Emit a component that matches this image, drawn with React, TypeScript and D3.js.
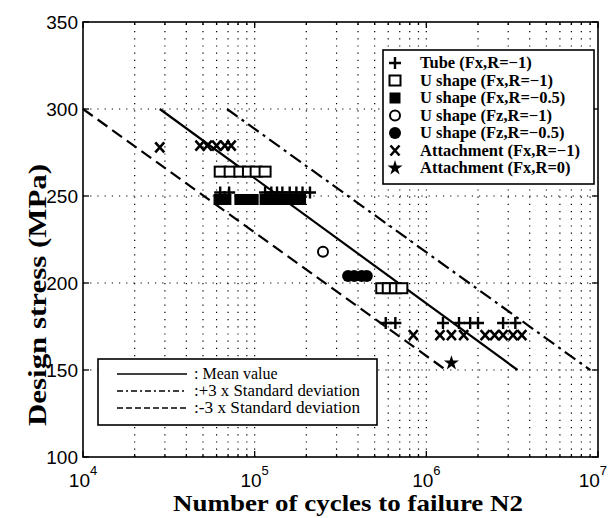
import React from "react";
import * as d3 from "d3";

// S-N data: cycles N and design stress S (MPa)
const tubeN = [6.3e4, 7.1e4, 1.15e5, 1.25e5, 1.35e5, 1.45e5, 1.6e5, 1.75e5, 1.9e5, 2.1e5, 5.8e5, 6.6e5, 1.25e6, 1.55e6, 1.8e6, 2.0e6, 2.8e6, 3.3e6];
const tubeS = [252, 252, 252, 252, 252, 252, 252, 252, 252, 252, 177, 177, 177, 177, 177, 177, 177, 177];

const uFxR1N = [6.3e4, 7.2e4, 8.2e4, 9.2e4, 1.02e5, 1.15e5, 5.5e5, 6.0e5, 6.6e5, 7.2e5];
const uFxR1S = [264, 264, 264, 264, 264, 264, 197, 197, 197, 197];

const uFxR05N = [6.2e4, 6.8e4, 8.2e4, 9.0e4, 9.8e4, 1.15e5, 1.25e5, 1.4e5, 1.55e5, 1.7e5, 1.85e5];
const uFxR05S = [248, 248, 248, 248, 248, 248, 248, 248, 248, 248, 248];

const uFzR1N = [2.5e5];
const uFzR1S = [218];

const uFzR05N = [3.5e5, 3.8e5, 4.2e5, 4.5e5];
const uFzR05S = [204, 204, 204, 204];

const attR1N = [2.8e4, 4.8e4, 5.3e4, 6.0e4, 6.7e4, 7.3e4, 8.4e5, 1.2e6, 1.4e6, 1.65e6, 2.2e6, 2.5e6, 2.8e6, 3.2e6, 3.6e6];
const attR1S = [278, 279, 279, 279, 279, 279, 170, 170, 170, 170, 170, 170, 170, 170, 170];

const attR0N = [1.4e6];
const attR0S = [154];

// design curves, each from 300 MPa down to 150 MPa
const curveS = [300, 150];
const meanN = [2.8e4, 3.4e6];
const plus3N = [6.9e4, 9.0e6];
const minus3N = [1.0e4, 1.3e6];

const yTicks = [100, 150, 200, 250, 300, 350];
const xDecades = [4, 5, 6, 7];

const seriesLabels = [
  "Tube (Fx,R=\u22121)",
  "U shape (Fx,R=\u22121)",
  "U shape (Fx,R=\u22120.5)",
  "U shape (Fz,R=\u22121)",
  "U shape (Fz,R=\u22120.5)",
  "Attachment (Fx,R=\u22121)",
  "Attachment (Fx,R=0)",
];
const curveLabels = [": Mean value", ":+3 x Standard deviation", ":-3 x Standard deviation"];

const width = 609;
const height = 518;
const margin = { top: 22, right: 11, bottom: 61, left: 83 };

const serif = "'Liberation Serif', 'Times New Roman', serif";
const sans = "'Liberation Sans', Arial, sans-serif";

function Marker({ kind, x, y }: { kind: string; x: number; y: number }) {
  if (kind === "plus") {
    return <path d={`M${x - 6},${y}H${x + 6}M${x},${y - 6}V${y + 6}`} stroke="#000" strokeWidth={2.4} />;
  }
  if (kind === "sqOpen") {
    return <rect x={x - 5.5} y={y - 5} width={11} height={10} fill="#fff" stroke="#000" strokeWidth={2} />;
  }
  if (kind === "sqFill") {
    return <rect x={x - 5.5} y={y - 5.5} width={11} height={11} fill="#000" />;
  }
  if (kind === "circOpen") {
    return <circle cx={x} cy={y} r={5} fill="none" stroke="#000" strokeWidth={2} />;
  }
  if (kind === "circFill") {
    return <circle cx={x} cy={y} r={6} fill="#000" />;
  }
  if (kind === "cross") {
    return <path d={`M${x - 4.5},${y - 5}L${x + 4.5},${y + 5}M${x - 4.5},${y + 5}L${x + 4.5},${y - 5}`} stroke="#000" strokeWidth={2.6} />;
  }
  const star = d3.symbol().type(d3.symbolStar).size(70)();
  return <path d={star || ""} transform={`translate(${x},${y})`} fill="#000" />;
}

export default function App() {
  const x = d3.scaleLog().domain([1e4, 1e7]).range([margin.left, width - margin.right]);
  const y = d3.scaleLinear().domain([100, 350]).range([height - margin.bottom, margin.top]);
  const x0 = margin.left, x1 = width - margin.right, y0 = height - margin.bottom, y1 = margin.top;

  const minor: number[] = [];
  for (let e = 4; e < 7; e++) for (let k = 2; k <= 9; k++) minor.push(k * Math.pow(10, e));
  const majorInner = [1e5, 1e6];

  const series = [
    { kind: "plus", n: tubeN, s: tubeS },
    { kind: "sqOpen", n: uFxR1N, s: uFxR1S },
    { kind: "sqFill", n: uFxR05N, s: uFxR05S },
    { kind: "circOpen", n: uFzR1N, s: uFzR1S },
    { kind: "circFill", n: uFzR05N, s: uFzR05S },
    { kind: "cross", n: attR1N, s: attR1S },
    { kind: "star", n: attR0N, s: attR0S },
  ];

  const line = d3.line<[number, number]>().x(d => x(d[0])).y(d => y(d[1]));
  const curves = [
    { n: meanN, dash: undefined as string | undefined, legDash: undefined as string | undefined },
    { n: plus3N, dash: "13,5,3,5", legDash: "6,3,2,3" },
    { n: minus3N, dash: "12,6", legDash: "6,3" },
  ];

  const leg = { x: 383, y: 50, w: 211, h: 134 };
  const leg2 = { x: 98, y: 359, w: 279, h: 66 };

  return (
    <svg width={width} height={height} style={{ position: "absolute", left: 0, top: 0, background: "#fff" }}>
      <rect width={width} height={height} fill="#fff" />
      {/* dotted grid */}
      <g stroke="#000" strokeWidth={1.2} strokeDasharray="1.2,6">
        {minor.concat(majorInner).map((v, i) => (
          <line key={"gx" + i} x1={x(v)} x2={x(v)} y1={y0} y2={y1} />
        ))}
        {yTicks.slice(1, -1).map(v => (
          <line key={"gy" + v} x1={x0} x2={x1} y1={y(v)} y2={y(v)} />
        ))}
      </g>

      {/* design curves */}
      {curves.map((c, i) => (
        <path key={"c" + i}
          d={line(c.n.map((n, j) => [n, curveS[j]] as [number, number])) || ""}
          fill="none" stroke="#000" strokeWidth={2.2} strokeDasharray={c.dash} />
      ))}

      {/* data points */}
      {series.map((sr, i) => (
        <g key={"s" + i}>
          {sr.n.map((n, j) => <Marker key={j} kind={sr.kind} x={x(n)} y={y(sr.s[j])} />)}
        </g>
      ))}

      {/* frame and ticks */}
      <rect x={x0} y={y1} width={x1 - x0} height={y0 - y1} fill="none" stroke="#000" strokeWidth={1.6} />
      <g stroke="#000" strokeWidth={1.3}>
        {yTicks.map(v => (
          <g key={"ty" + v}>
            <line x1={x0} x2={x0 + 6} y1={y(v)} y2={y(v)} />
            <line x1={x1} x2={x1 - 6} y1={y(v)} y2={y(v)} />
          </g>
        ))}
        {xDecades.map(e => (
          <g key={"tx" + e}>
            <line x1={x(Math.pow(10, e))} x2={x(Math.pow(10, e))} y1={y0} y2={y0 - 6} />
            <line x1={x(Math.pow(10, e))} x2={x(Math.pow(10, e))} y1={y1} y2={y1 + 6} />
          </g>
        ))}
        {minor.map((v, i) => (
          <g key={"tm" + i}>
            <line x1={x(v)} x2={x(v)} y1={y0} y2={y0 - 3} />
            <line x1={x(v)} x2={x(v)} y1={y1} y2={y1 + 3} />
          </g>
        ))}
      </g>

      {/* tick labels */}
      <g fontFamily={sans} fontSize={19} fill="#000">
        {yTicks.map(v => (
          <text key={"ly" + v} x={x0 - 5} y={y(v)} dy="0.35em" textAnchor="end">{v}</text>
        ))}
        {xDecades.map((e, i) => {
          const last = i === xDecades.length - 1;
          return (
            <text key={"lx" + e} x={last ? width - 2 : x(Math.pow(10, e))} y={487} textAnchor={last ? "end" : "middle"}>
              <tspan>10</tspan>
              <tspan fontSize={13} dy={-12}>{e}</tspan>
            </text>
          );
        })}
      </g>

      {/* axis titles */}
      <text x={348} y={511} textAnchor="middle" fontFamily={serif} fontWeight="bold" fontSize={23}
        textLength={350} lengthAdjust="spacingAndGlyphs">Number of cycles to failure N2</text>
      <text transform="translate(46,295) rotate(-90)" textAnchor="middle" fontFamily={serif} fontWeight="bold"
        fontSize={25} textLength={262} lengthAdjust="spacingAndGlyphs">Design stress (MPa)</text>

      {/* series legend */}
      <rect x={leg.x} y={leg.y} width={leg.w} height={leg.h} fill="#fff" stroke="#000" strokeWidth={1.6} />
      {seriesLabels.map((t, i) => {
        const cy = leg.y + 13 + i * 17.5;
        return (
          <g key={"lg" + i}>
            <Marker kind={series[i].kind} x={leg.x + 12} y={cy} />
            <text x={leg.x + 37} y={cy} dy="0.33em" fontFamily={serif} fontWeight="bold" fontSize={16.5}>{t}</text>
          </g>
        );
      })}

      {/* curve legend */}
      <rect x={leg2.x} y={leg2.y} width={leg2.w} height={leg2.h} fill="#fff" stroke="#000" strokeWidth={1.6} />
      {curveLabels.map((t, i) => {
        const cy = leg2.y + 15 + i * 17;
        return (
          <g key={"lc" + i}>
            <line x1={leg2.x + 19} x2={leg2.x + 89} y1={cy} y2={cy} stroke="#000" strokeWidth={1.4}
              strokeDasharray={curves[i].legDash} />
            <text x={leg2.x + 96} y={cy} dy="0.33em" fontFamily={serif} fontSize={16}
              textLength={i === 0 ? undefined : 166} lengthAdjust="spacingAndGlyphs">{t}</text>
          </g>
        );
      })}
    </svg>
  );
}
